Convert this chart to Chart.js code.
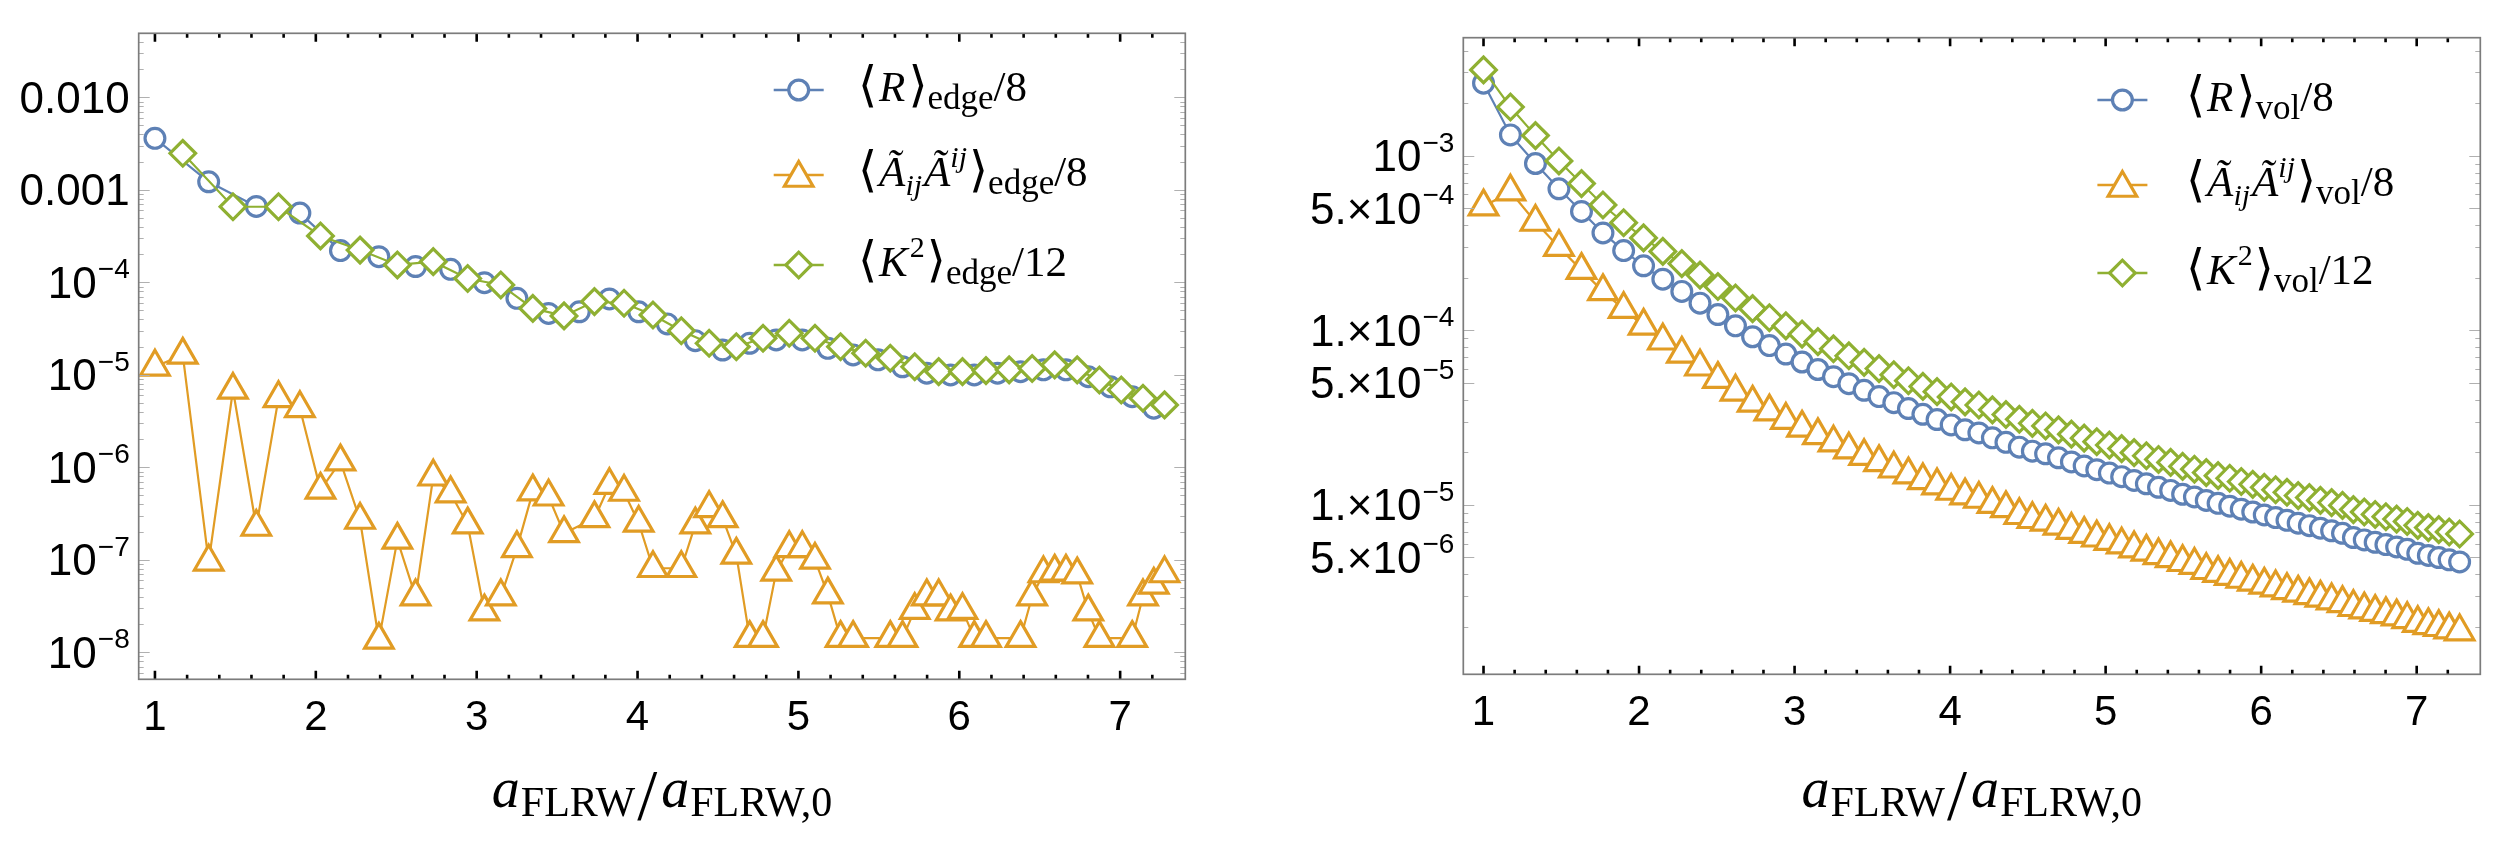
<!DOCTYPE html>
<html><head><meta charset="utf-8">
<script src="https://cdn.jsdelivr.net/npm/chart.js@4.4.1/dist/chart.umd.min.js"></script>
<style>
html,body{margin:0;padding:0;background:#fff;width:2500px;height:867px;overflow:hidden}
.w{position:absolute;top:0;width:1250px;height:867px}
#w1{left:0}#w2{left:1250px}
</style></head>
<body>
<div class="w" id="w1"><canvas id="c1" width="1250" height="867"></canvas></div>
<div class="w" id="w2"><canvas id="c2" width="1250" height="867"></canvas></div>
<script>
// ---------------- data ----------------
const xGrid = [1.000,1.173,1.334,1.485,1.630,1.768,1.901,2.029,2.153,2.275,
 2.392,2.507,2.620,2.730,2.838,2.944,3.048,3.150,3.250,3.349,
 3.447,3.543,3.638,3.732,3.825,3.916,4.007,4.096,4.185,4.272,
 4.359,4.445,4.529,4.614,4.697,4.780,4.862,4.943,5.024,5.103,
 5.183,5.262,5.340,5.418,5.495,5.571,5.647,5.723,5.798,5.872,
 5.946,6.020,6.093,6.166,6.238,6.310,6.381,6.453,6.523,6.593,
 6.663,6.733,6.802,6.871,6.939,7.007,7.075,7.142,7.209,7.276];

// left panel (edge)
const edgeRx = [1.000,1.334,1.630,1.901,2.153,2.392,2.620,2.838,3.048,3.250,3.447,3.638,3.825,4.007,4.185,4.359,4.529,4.697,4.862,5.024,5.183,5.340,5.495,5.647,5.798,5.946,6.093,6.238,6.381,6.523,6.663,6.802,6.939,7.075,7.209];
const edgeR = [3.6e-3,1.22e-3,6.6e-4,5.6e-4,2.2e-4,1.89e-4,1.48e-4,1.38e-4,9.9e-5,6.7e-5,4.6e-5,4.8e-5,6.6e-5,4.8e-5,3.55e-5,2.34e-5,1.85e-5,2.19e-5,2.38e-5,2.38e-5,1.93e-5,1.64e-5,1.45e-5,1.22e-5,1.04e-5,9.95e-6,9.95e-6,1.04e-5,1.08e-5,1.13e-5,1.13e-5,9.55e-6,7.4e-6,5.8e-6,4.35e-6];
const edgeKx = [1.173,1.485,1.768,2.029,2.275,2.507,2.730,2.944,3.150,3.349,3.543,3.732,3.916,4.096,4.272,4.445,4.614,4.780,4.943,5.103,5.262,5.418,5.571,5.723,5.872,6.020,6.166,6.310,6.453,6.593,6.733,6.871,7.007,7.142,7.276];
const edgeK = [2.48e-3,6.56e-4,6.56e-4,3.17e-4,2.23e-4,1.54e-4,1.67e-4,1.10e-4,9.35e-5,5.22e-5,4.33e-5,6.18e-5,5.93e-5,4.43e-5,2.99e-5,2.19e-5,2.01e-5,2.48e-5,2.81e-5,2.48e-5,2.01e-5,1.71e-5,1.51e-5,1.22e-5,1.08e-5,1.08e-5,1.11e-5,1.13e-5,1.17e-5,1.28e-5,1.13e-5,8.79e-6,6.85e-6,5.57e-6,4.72e-6];
// null = no marker drawn at that sample in the reference
const edgeA = [1.22e-5,1.64e-5,9.5e-8,6.85e-6,2.26e-7,5.57e-6,4.34e-6,5.7e-7,1.15e-6,2.69e-7,
 1.36e-8,1.64e-7,4.0e-8,7.9e-7,5.2e-7,2.4e-7,2.75e-8,4.0e-8,1.33e-7,5.45e-7,
 4.8e-7,1.93e-7,null,2.8e-7,6.4e-7,5.4e-7,2.5e-7,8.1e-8,null,8.1e-8,
 2.4e-7,3.6e-7,2.8e-7,1.13e-7,1.42e-8,1.42e-8,7.4e-8,1.33e-7,1.33e-7,9.95e-8,
 4.2e-8,1.42e-8,1.42e-8,null,null,1.42e-8,1.42e-8,2.85e-8,4.0e-8,4.0e-8,
 2.75e-8,2.85e-8,1.42e-8,1.42e-8,null,null,1.42e-8,4.0e-8,7.1e-8,7.4e-8,
 7.4e-8,6.9e-8,2.75e-8,1.42e-8,null,null,1.42e-8,4.0e-8,5.35e-8,7.1e-8];

// right panel (vol)
const volR = [2.60e-3,1.315e-3,9.02e-4,6.46e-4,4.79e-4,3.61e-4,2.86e-4,2.34e-4,1.96e-4,1.67e-4,
 1.43e-4,1.23e-4,1.06e-4,9.18e-5,8.17e-5,7.31e-5,6.58e-5,5.96e-5,5.42e-5,4.94e-5,
 4.53e-5,4.17e-5,3.85e-5,3.56e-5,3.30e-5,3.08e-5,2.87e-5,2.69e-5,2.58e-5,2.42e-5,
 2.28e-5,2.14e-5,2.03e-5,1.96e-5,1.86e-5,1.76e-5,1.67e-5,1.59e-5,1.52e-5,1.45e-5,
 1.38e-5,1.32e-5,1.26e-5,1.21e-5,1.15e-5,1.11e-5,1.06e-5,1.02e-5,9.82e-6,9.44e-6,
 9.10e-6,8.75e-6,8.45e-6,8.15e-6,7.85e-6,7.60e-6,7.35e-6,7.10e-6,6.87e-6,6.50e-6,
 6.30e-6,6.10e-6,5.92e-6,5.74e-6,5.56e-6,5.28e-6,5.13e-6,4.99e-6,4.84e-6,4.71e-6];
const volA = [5.11e-4,6.22e-4,4.17e-4,2.99e-4,2.21e-4,1.67e-4,1.32e-4,1.06e-4,8.71e-5,7.32e-5,
 6.18e-5,5.25e-5,4.44e-5,3.84e-5,3.42e-5,3.06e-5,2.76e-5,2.50e-5,2.27e-5,2.07e-5,
 1.90e-5,1.75e-5,1.61e-5,1.49e-5,1.38e-5,1.29e-5,1.20e-5,1.13e-5,1.08e-5,1.01e-5,
 9.55e-6,8.72e-6,8.27e-6,7.99e-6,7.58e-6,7.17e-6,6.80e-6,6.48e-6,6.19e-6,5.91e-6,
 5.62e-6,5.38e-6,5.13e-6,4.93e-6,4.69e-6,4.52e-6,4.22e-6,4.06e-6,3.91e-6,3.76e-6,
 3.62e-6,3.48e-6,3.36e-6,3.24e-6,3.13e-6,3.03e-6,2.93e-6,2.83e-6,2.73e-6,2.59e-6,
 2.51e-6,2.43e-6,2.36e-6,2.29e-6,2.21e-6,2.10e-6,2.04e-6,1.99e-6,1.93e-6,1.88e-6];
const volK = [3.10e-3,1.90e-3,1.303e-3,9.33e-4,6.92e-4,5.22e-4,4.13e-4,3.38e-4,2.83e-4,2.41e-4,
 2.07e-4,1.78e-4,1.53e-4,1.33e-4,1.18e-4,1.06e-4,9.51e-5,8.61e-5,7.83e-5,7.14e-5,
 6.55e-5,6.03e-5,5.56e-5,5.14e-5,4.77e-5,4.45e-5,4.15e-5,3.89e-5,3.73e-5,3.50e-5,
 3.29e-5,3.09e-5,2.93e-5,2.83e-5,2.69e-5,2.54e-5,2.41e-5,2.30e-5,2.20e-5,2.10e-5,
 1.99e-5,1.91e-5,1.82e-5,1.75e-5,1.66e-5,1.60e-5,1.53e-5,1.47e-5,1.42e-5,1.36e-5,
 1.31e-5,1.26e-5,1.22e-5,1.18e-5,1.13e-5,1.10e-5,1.06e-5,1.03e-5,9.93e-6,9.39e-6,
 9.10e-6,8.81e-6,8.55e-6,8.29e-6,8.03e-6,7.63e-6,7.41e-6,7.21e-6,6.99e-6,6.81e-6];

// ticks
const xTickValues = [1,2,3,4,5,6,7];
const xTickLabels = ['1','2','3','4','5','6','7'];
const leftYTicks = [0.01,0.001,1e-4,1e-5,1e-6,1e-7,1e-8];
const leftYLabels = [['0.010',''],['0.001',''],['10','\u22124'],['10','\u22125'],['10','\u22126'],['10','\u22127'],['10','\u22128']];
const rightYTicks = [1e-3,5e-4,1e-4,5e-5,1e-5,5e-6];
const rightYLabels = [['10','\u22123'],['5.\u00d710','\u22124'],['1.\u00d710','\u22124'],['5.\u00d710','\u22125'],['1.\u00d710','\u22125'],['5.\u00d710','\u22126']];
const seriesNames = ['R', 'AA', 'K2'];
const leftSub = 'edge', rightSub = 'vol';
const seriesColors = ['#5E81B5','#E19C24','#8FB032'];

// ---------------- drawing helpers ----------------
const SANS = '"Liberation Sans", Arial, sans-serif';
const SERIF = '"Liberation Serif", "Times New Roman", serif';
const MW = 3.2; // marker stroke

function runs(ctx, x, y, list) {
  for (const r of list) {
    ctx.font = r.f;
    const dx = r.dx || 0;
    ctx.fillText(r.t, x + dx, y + (r.dy || 0));
    x += dx + ctx.measureText(r.t).width + (r.gap || 0);
  }
  return x;
}
function runsWidth(ctx, list) {
  let w = 0;
  for (const r of list) { ctx.font = r.f; w += (r.dx||0) + ctx.measureText(r.t).width + (r.gap||0); }
  return w;
}
function marker(ctx, style, x, y, color) {
  ctx.save();
  ctx.strokeStyle = color; ctx.fillStyle = '#fff'; ctx.lineWidth = MW;
  ctx.beginPath();
  if (style === 'circle') { ctx.arc(x, y, 9.9, 0, Math.PI*2); }
  else if (style === 'triangle') {
    const r = 16.5;
    for (let k = 0; k < 3; k++) {
      const a = k * 2*Math.PI/3;
      const px = x + Math.sin(a)*r, py = y - Math.cos(a)*r;
      k ? ctx.lineTo(px, py) : ctx.moveTo(px, py);
    }
    ctx.closePath();
  } else {
    const r = 12.8;
    ctx.moveTo(x - r, y); ctx.lineTo(x, y - r); ctx.lineTo(x + r, y); ctx.lineTo(x, y + r); ctx.closePath();
  }
  ctx.fill(); ctx.stroke();
  ctx.restore();
}

const mmPlugin = {
  id: 'mm',
  afterDatasetsDraw(chart, args, o) {
    const ctx = chart.ctx, ca = chart.chartArea, xs = chart.scales.x, ys = chart.scales.y;
    ctx.save();
    // y ticks (grey, inward both sides)
    ctx.strokeStyle = '#b0b0b0'; ctx.lineWidth = 1;
    const ymin = ys.min, ymax = ys.max;
    for (let e = Math.floor(Math.log10(ymin)); e <= Math.ceil(Math.log10(ymax)); e++) {
      for (let m = 1; m <= 9; m++) {
        const v = m * Math.pow(10, e);
        if (v < ymin || v > ymax) continue;
        const major = o.yMajor.some(t => Math.abs(t - v) / v < 1e-6);
        const len = major ? 11 : 5;
        const py = Math.round(ys.getPixelForValue(v)) + 0.5;
        ctx.beginPath();
        ctx.moveTo(ca.left, py); ctx.lineTo(ca.left + len, py);
        ctx.moveTo(ca.right, py); ctx.lineTo(ca.right - len, py);
        ctx.stroke();
      }
    }
    // x ticks (black, inward top and bottom)
    ctx.strokeStyle = '#000'; ctx.lineWidth = 2.6;
    for (let i = Math.ceil(xs.min * 5); i / 5 <= xs.max - 0.02; i++) {
      const v = i / 5;
      const major = Math.abs(v - Math.round(v)) < 1e-6;
      const len = major ? 8.5 : 4.5;
      const px = xs.getPixelForValue(v);
      ctx.beginPath();
      ctx.moveTo(px, ca.bottom); ctx.lineTo(px, ca.bottom - len);
      ctx.moveTo(px, ca.top); ctx.lineTo(px, ca.top + len);
      ctx.stroke();
    }
    // frame
    ctx.strokeStyle = '#7c7c7c'; ctx.lineWidth = 1.7;
    ctx.strokeRect(ca.left, ca.top, ca.right - ca.left, ca.bottom - ca.top);
    // y tick labels
    ctx.fillStyle = '#000'; ctx.textAlign = 'left'; ctx.textBaseline = 'alphabetic';
    const baseF = '44px ' + SANS, expF = '28px ' + SANS;
    o.yMajor.forEach((v, i) => {
      const [b, ex] = o.yLabels[i];
      const py = ys.getPixelForValue(v);
      const xr = ca.left - 9;
      ctx.font = expF; const we = ex ? ctx.measureText(ex).width + 1 : 0;
      ctx.font = baseF; const wb = ctx.measureText(b).width;
      ctx.fillText(b, xr - we - wb, py + 15.5);
      if (ex) { ctx.font = expF; ctx.fillText(ex, xr - we + 1, py - 4); }
    });
    // x tick labels
    ctx.font = '42px ' + SANS; ctx.textAlign = 'center';
    xTickValues.forEach((v, i) => {
      ctx.fillText(xTickLabels[i], xs.getPixelForValue(v), ca.bottom + 51);
    });
    ctx.textAlign = 'left';
    // axis title
    const T = [
      {t:'a', f:'italic 56px ' + SERIF, gap:1},
      {t:'FLRW', f:'42px ' + SERIF, dy:9, gap:2},
      {t:'/', f:'72px ' + SERIF, dy:12, gap:4},
      {t:'a', f:'italic 56px ' + SERIF, gap:1},
      {t:'FLRW,0', f:'42px ' + SERIF, dy:9}
    ];
    const tw = runsWidth(ctx, T);
    runs(ctx, (ca.left + ca.right) / 2 - tw / 2, 807, T);
    // legend
    const BR = '300 49px "DejaVu Sans", "DejaVu Serif", sans-serif';
    const IT = 'italic 43px ' + SERIF, RM = '43px ' + SERIF, SUB = '35px ' + SERIF;
    const ITS = 'italic 30px ' + SERIF, SUP = '30px ' + SERIF;
    const sub = o.sub;
    const rows = [
      [{t:'\u27e8',f:BR,gap:2},{t:'R',f:IT,gap:3},{t:'\u27e9',f:BR},{t:sub,f:SUB,dy:8},{t:'/8',f:RM}],
      [{t:'\u27e8',f:BR,gap:2},{t:'\u00c3',f:IT},{t:'ij',f:ITS,dy:9,gap:2},{t:'\u00c3',f:IT},{t:'ij',f:ITS,dy:-19,gap:2},{t:'\u27e9',f:BR},{t:sub,f:SUB,dy:8},{t:'/8',f:RM}],
      [{t:'\u27e8',f:BR,gap:2},{t:'K',f:IT,gap:2},{t:'2',f:SUP,dy:-19,gap:2},{t:'\u27e9',f:BR},{t:sub,f:SUB,dy:8},{t:'/12',f:RM}]
    ];
    const styles = ['circle','triangle','rectRot'];
    o.legendRows.forEach((ry, i) => {
      ctx.strokeStyle = seriesColors[i]; ctx.lineWidth = 2.3;
      ctx.beginPath(); ctx.moveTo(o.legendX - 25, ry); ctx.lineTo(o.legendX + 25, ry); ctx.stroke();
      marker(ctx, styles[i], o.legendX, ry + (i === 1 ? 3 : 0), seriesColors[i]);
      ctx.fillStyle = '#000';
      runs(ctx, o.textX, ry + 11, rows[i]);
    });
    ctx.restore();
  }
};

function ds(label, xs, ys, color, style, r, order) {
  return {
    label, data: xs.map((x, i) => ({x, y: ys[i]})),
    showLine: true, spanGaps: true, borderColor: color, borderWidth: 2.2, tension: 0,
    pointStyle: style, pointRadius: r, pointHoverRadius: r, pointBorderWidth: MW,
    pointBorderColor: color, pointBackgroundColor: '#fff', backgroundColor: '#fff',
    order, clip: 20
  };
}

function makeChart(id, datasets, pad, xr, yr, plug) {
  return new Chart(document.getElementById(id), {
    type: 'scatter',
    data: { datasets },
    options: {
      responsive: false, animation: false, devicePixelRatio: 1,
      layout: { padding: pad },
      scales: {
        x: { type: 'linear', min: xr[0], max: xr[1], display: false },
        y: { type: 'logarithmic', min: yr[0], max: yr[1], display: false }
      },
      plugins: { legend: { display: false }, tooltip: { enabled: false }, mm: plug }
    },
    plugins: [mmPlugin]
  });
}

makeChart('c1', [
  ds(seriesNames[0] + leftSub, edgeRx, edgeR, seriesColors[0], 'circle', 9.9, 2),
  ds(seriesNames[1] + leftSub, xGrid, edgeA, seriesColors[1], 'triangle', 16.5, 1),
  ds(seriesNames[2] + leftSub, edgeKx, edgeK, seriesColors[2], 'rectRot', 12.8, 0)
], {left: 138.7, top: 33.3, right: 64.7, bottom: 187.7}, [0.899, 7.405], [5.1e-9, 0.0492],
{ yMajor: leftYTicks, yLabels: leftYLabels, sub: leftSub, legendX: 798.7, legendRows: [90, 175, 265], textX: 858 });

makeChart('c2', [
  ds(seriesNames[0] + rightSub, xGrid, volR, seriesColors[0], 'circle', 9.9, 2),
  ds(seriesNames[1] + rightSub, xGrid, volA, seriesColors[1], 'triangle', 16.5, 1),
  ds(seriesNames[2] + rightSub, xGrid, volK, seriesColors[2], 'rectRot', 12.8, 0)
], {left: 213.3, top: 37.7, right: 8.2, bottom: 192.7}, [0.870, 7.409], [1.07e-6, 4.74e-3],
{ yMajor: rightYTicks, yLabels: rightYLabels, sub: rightSub, legendX: 872.4, legendRows: [100, 185, 273], textX: 936 });
</script>
</body></html>
